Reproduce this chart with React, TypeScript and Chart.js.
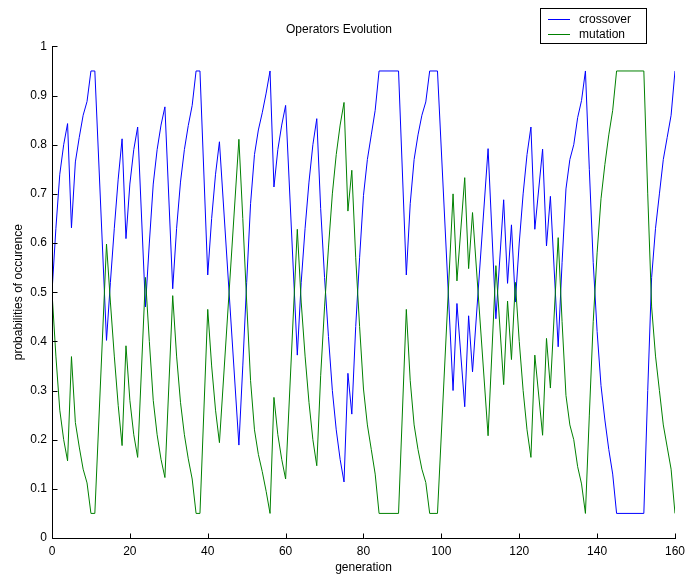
import React, { useEffect, useRef } from 'react';
import { Chart, registerables } from 'chart.js';

Chart.register(...registerables);

const FONT = '"Liberation Sans", Arial, Helvetica, sans-serif';

const chartTitle = 'Operators Evolution';
const xAxisTitle = 'generation';
const yAxisTitle = 'probabilities of occurence';
const seriesLabels = ['crossover', 'mutation'];
const seriesColors = ['#0000ff', '#008000'];

const xTicks = [0, 20, 40, 60, 80, 100, 120, 140, 160];
const yTicks = [0, 0.1, 0.2, 0.3, 0.4, 0.5, 0.6, 0.7, 0.8, 0.9, 1];

const generations = [
  0, 1, 2, 3, 4, 5, 6, 7, 8, 9, 10, 11, 14, 15, 16, 17, 18, 19, 20, 21, 22, 24,
  25, 26, 27, 28, 29, 31, 32, 33, 34, 35, 36, 37, 38, 40, 41, 42, 43, 48, 49, 50,
  51, 52, 53, 54, 55, 56, 57, 58, 59, 60, 63, 64, 65, 66, 67, 68, 69, 70, 71, 72,
  73, 74, 75, 76, 77, 78, 79, 80, 81, 82, 83, 84, 89, 91, 92, 93, 94, 95, 96, 97,
  99, 103, 104, 106, 107, 108, 112, 114, 116, 117, 118, 119, 120, 121, 122, 123,
  124, 126, 127, 128, 130, 131, 132, 133, 134, 135, 136, 137, 138, 139, 140, 141,
  142, 143, 144, 145, 152, 153, 154, 155, 156, 157, 158, 159, 160,
];

const crossover = [
  0.5, 0.63, 0.74, 0.8, 0.843, 0.631, 0.765, 0.815, 0.86, 0.888, 0.95, 0.95, 0.402, 0.52, 0.63, 0.73, 0.812, 0.609, 0.72, 0.79, 0.836, 0.47,
  0.6, 0.72, 0.79, 0.84, 0.877, 0.507, 0.63, 0.724, 0.79, 0.839, 0.88, 0.95, 0.95, 0.535, 0.65, 0.74, 0.806, 0.189, 0.35, 0.52,
  0.68, 0.78, 0.83, 0.865, 0.905, 0.95, 0.714, 0.79, 0.84, 0.88, 0.372, 0.52, 0.63, 0.724, 0.8, 0.853, 0.67, 0.53, 0.41, 0.3,
  0.22, 0.16, 0.114, 0.335, 0.252, 0.43, 0.57, 0.697, 0.77, 0.82, 0.87, 0.95, 0.95, 0.535, 0.68, 0.77, 0.82, 0.86, 0.887, 0.95,
  0.95, 0.3, 0.477, 0.267, 0.452, 0.338, 0.792, 0.446, 0.688, 0.518, 0.637, 0.48, 0.6, 0.7, 0.78, 0.836,
  0.628, 0.791, 0.594, 0.695, 0.389, 0.56, 0.71, 0.77, 0.8, 0.855, 0.89, 0.95, 0.75, 0.56, 0.42, 0.31,
  0.24, 0.18, 0.13, 0.05, 0.05, 0.3, 0.53, 0.63, 0.7, 0.77, 0.815, 0.86, 0.95,
];

const mutation = [
  0.5, 0.37, 0.26, 0.2, 0.157, 0.369, 0.235, 0.185, 0.14, 0.112, 0.05, 0.05, 0.598, 0.48, 0.37, 0.27, 0.188, 0.391, 0.28, 0.21, 0.164, 0.53,
  0.4, 0.28, 0.21, 0.16, 0.123, 0.493, 0.37, 0.276, 0.21, 0.161, 0.12, 0.05, 0.05, 0.465, 0.35, 0.26, 0.194, 0.811, 0.65, 0.48,
  0.32, 0.22, 0.17, 0.135, 0.095, 0.05, 0.286, 0.21, 0.16, 0.12, 0.628, 0.48, 0.37, 0.276, 0.2, 0.147, 0.33, 0.47, 0.59, 0.7,
  0.78, 0.84, 0.886, 0.665, 0.748, 0.57, 0.43, 0.303, 0.23, 0.18, 0.13, 0.05, 0.05, 0.465, 0.32, 0.23, 0.18, 0.14, 0.113, 0.05,
  0.05, 0.7, 0.523, 0.733, 0.548, 0.662, 0.208, 0.554, 0.312, 0.482, 0.363, 0.52, 0.4, 0.3, 0.22, 0.164,
  0.372, 0.209, 0.406, 0.305, 0.611, 0.44, 0.29, 0.23, 0.2, 0.145, 0.11, 0.05, 0.25, 0.44, 0.58, 0.69,
  0.76, 0.82, 0.87, 0.95, 0.95, 0.7, 0.47, 0.37, 0.3, 0.23, 0.185, 0.14, 0.05,
];

const matlabPlugin = {
  id: 'matlabDecor',
  afterDraw(chart: any) {
    const { ctx, chartArea, scales } = chart;
    const xs = scales.x;
    const ys = scales.y;
    ctx.save();
    ctx.strokeStyle = '#000';
    ctx.lineWidth = 1;
    const L = Math.round(chartArea.left) + 0.5;
    const B = Math.round(chartArea.bottom) + 0.5;
    ctx.beginPath();
    ctx.moveTo(L, Math.round(chartArea.top));
    ctx.lineTo(L, B);
    ctx.lineTo(Math.round(chartArea.right) + 1, B);
    for (const t of xTicks) {
      const px = Math.round(xs.getPixelForValue(t)) + 0.5;
      ctx.moveTo(px, B);
      ctx.lineTo(px, B - 5);
    }
    for (const t of yTicks) {
      const py = Math.round(ys.getPixelForValue(t)) + 0.5;
      ctx.moveTo(L, py);
      ctx.lineTo(L + 5, py);
    }
    ctx.stroke();

    // legend box
    const bx = 540.5, by = 8.5, bw = 106, bh = 35;
    ctx.fillStyle = '#fff';
    ctx.fillRect(bx, by, bw, bh);
    ctx.strokeStyle = '#000';
    ctx.strokeRect(bx, by, bw, bh);
    ctx.font = `12px ${FONT}`;
    ctx.textBaseline = 'middle';
    ctx.textAlign = 'left';
    seriesLabels.forEach((label, i) => {
      const ry = 19.5 + i * 15;
      ctx.strokeStyle = seriesColors[i];
      ctx.beginPath();
      ctx.moveTo(548, ry);
      ctx.lineTo(570, ry);
      ctx.stroke();
      ctx.fillStyle = '#000';
      ctx.fillText(label, 579, ry);
    });
    ctx.restore();
  },
};

export default function App() {
  const canvasRef = useRef<HTMLCanvasElement | null>(null);

  useEffect(() => {
    const canvas = canvasRef.current;
    if (!canvas) return;
    const tickFont = { family: FONT, size: 12 };
    const chart = new Chart(canvas, {
      type: 'line',
      data: {
        datasets: [
          {
            label: seriesLabels[0],
            data: generations.map((g, i) => ({ x: g, y: crossover[i] })),
            borderColor: seriesColors[0],
            backgroundColor: seriesColors[0],
            borderWidth: 1,
            pointRadius: 0,
            tension: 0,
            fill: false,
            order: 1,
          },
          {
            label: seriesLabels[1],
            data: generations.map((g, i) => ({ x: g, y: mutation[i] })),
            borderColor: seriesColors[1],
            backgroundColor: seriesColors[1],
            borderWidth: 1,
            pointRadius: 0,
            tension: 0,
            fill: false,
            order: 0,
          },
        ],
      },
      plugins: [matlabPlugin],
      options: {
        animation: false,
        responsive: false,
        devicePixelRatio: 1,
        layout: { padding: { left: 0, right: 13, top: 0, bottom: 0 } },
        plugins: {
          legend: { display: false },
          tooltip: { enabled: false },
          title: {
            display: true,
            text: chartTitle,
            color: '#000',
            font: { family: FONT, size: 12, weight: 'normal' },
            padding: { top: 22, bottom: 10 },
          },
        },
        scales: {
          x: {
            type: 'linear',
            min: 0,
            max: 160,
            afterFit: (s: any) => { s.height = 44; },
            afterBuildTicks: (s: any) => { s.ticks = xTicks.map((v) => ({ value: v })); },
            grid: { display: false, drawTicks: false },
            border: { display: false },
            ticks: { color: '#000', font: tickFont, padding: 6, maxRotation: 0, autoSkip: false },
            title: {
              display: true,
              text: xAxisTitle,
              color: '#000',
              font: { family: FONT, size: 12, weight: 'normal' },
              padding: { top: 0, bottom: 7 },
            },
          },
          y: {
            type: 'linear',
            min: 0,
            max: 1,
            afterFit: (s: any) => { s.width = 52; },
            afterBuildTicks: (s: any) => { s.ticks = yTicks.map((v) => ({ value: v })); },
            grid: { display: false, drawTicks: false },
            border: { display: false },
            ticks: {
              color: '#000',
              font: tickFont,
              padding: 5,
              autoSkip: false,
              callback: (v: any) => String(Math.round(Number(v) * 10) / 10),
            },
            title: {
              display: true,
              text: yAxisTitle,
              color: '#000',
              font: { family: FONT, size: 12, weight: 'normal' },
              padding: { top: 11, bottom: 0 },
            },
          },
        },
      },
    } as any);
    return () => chart.destroy();
  }, []);

  return (
    <div style={{ position: 'absolute', left: 0, top: 0, width: 691, height: 582, background: '#fff' }}>
      <canvas ref={canvasRef} width={691} height={582} style={{ display: 'block', width: 691, height: 582 }} />
    </div>
  );
}
